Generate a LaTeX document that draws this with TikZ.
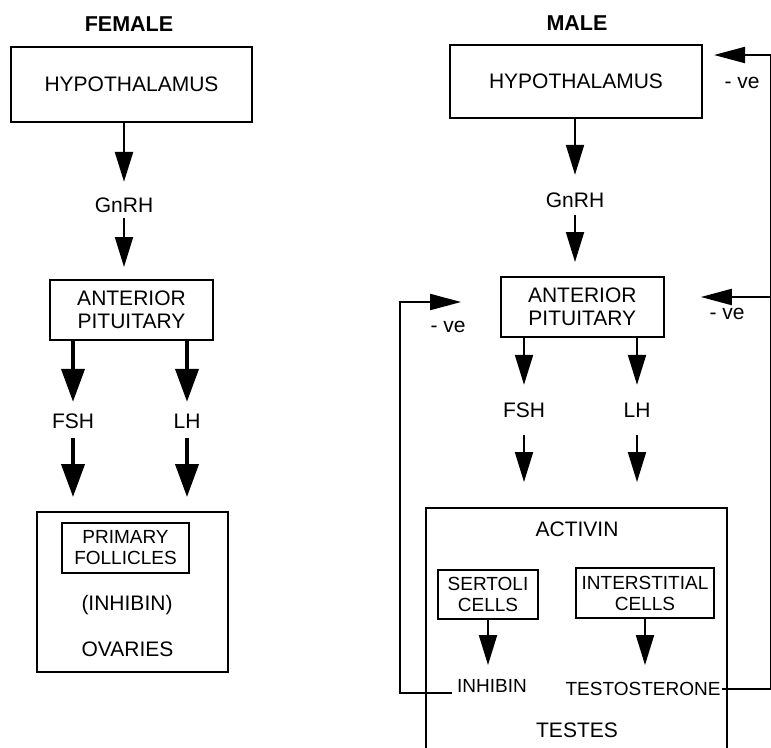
\documentclass[tikz,border=0pt]{standalone}
\usepackage{fontspec}
\setmainfont{Liberation Sans}
\usetikzlibrary{arrows.meta,calc}
\begin{document}
\begin{tikzpicture}[x=1pt,y=-1pt,
  lbl/.style={inner sep=0pt, font=\fontsize{21}{23}\selectfont, text height=15pt, text depth=0pt},
  slbl/.style={inner sep=0pt, font=\fontsize{19}{21}\selectfont, text height=13.5pt, text depth=0pt},
  ttl/.style={inner sep=0pt, font=\bfseries\fontsize{21.5}{23}\selectfont, text height=15.4pt, text depth=0pt},
  box/.style={draw, line width=2pt, inner sep=0pt, align=center, font=\fontsize{21}{23}\selectfont},
  sbox/.style={draw, line width=1.6pt, inner sep=0pt, align=center, font=\fontsize{19}{21}\selectfont},
  arr/.style={line width=2pt, -{Triangle[length=30pt,width=18pt]}},
  thickarr/.style={line width=4pt, -{Triangle[length=33pt,width=23pt]}},
  fbarr/.style={line width=2pt, -{Triangle[length=31pt,width=16pt]}},
]
\useasboundingbox (0,0) rectangle (771,747);
\clip (0,0) rectangle (771,747);

% ---------------- FEMALE ----------------
\node[ttl] (ftitle) at (129,24) {FEMALE};
\node[box, minimum width=241pt, minimum height=75pt] (fhyp) at (131.5,84.5) {HYPOTHALAMUS};
\node[lbl] (fgnrh) at (124,205) {GnRH};
\node[box, minimum width=163pt, minimum height=60pt] (fant) at (131.5,310) {ANTERIOR\\PITUITARY};
\node[lbl] (ffsh) at (73,421) {FSH};
\node[lbl] (flh) at (187,421) {LH};
\node[box, minimum width=191pt, minimum height=160pt] (fova) at (132.5,592) {};
\node[sbox, minimum width=127pt, minimum height=50pt] (fprim) at (125.5,548) {PRIMARY\\FOLLICLES};
\node[lbl] (finh) at (127,603) {(INHIBIN)};
\node[lbl] (fovl) at (127.5,649) {OVARIES};

\draw[arr, line width=2.5pt, shorten >=15.5pt] (fgnrh |- fhyp.south) -- (fgnrh.north);
\draw[arr, shorten <=5.5pt, shorten >=12pt] (fgnrh.south) -- (fgnrh |- fant.north);
\draw[thickarr, shorten >=11.5pt] (ffsh |- fant.south) -- (ffsh.north);
\draw[thickarr, shorten >=11.5pt] (flh |- fant.south) -- (flh.north);
\draw[thickarr, shorten <=9.5pt, shorten >=14pt] (ffsh.south) -- (ffsh |- fova.north);
\draw[thickarr, shorten <=9.5pt, shorten >=14pt] (flh.south) -- (flh |- fova.north);

% ---------------- MALE ----------------
\node[ttl] (mtitle) at (577,22.5) {MALE};
\node[box, minimum width=252pt, minimum height=73pt] (mhyp) at (576,81.5) {HYPOTHALAMUS};
\node[lbl] (mgnrh) at (575,200) {GnRH};
\node[box, minimum width=163pt, minimum height=60pt] (mant) at (582.3,307) {ANTERIOR\\PITUITARY};
\node[lbl] (mfsh) at (524,410) {FSH};
\node[lbl] (mlh) at (637,410) {LH};
\node[box, minimum width=301pt, minimum height=252pt] (mtes) at (576.5,634) {};
\node[lbl] (mact) at (577,529) {ACTIVIN};
\node[sbox, minimum width=100pt, minimum height=49pt] (msert) at (488,594.5) {SERTOLI\\CELLS};
\node[sbox, minimum width=138pt, minimum height=50pt] (mint) at (645,593) {INTERSTITIAL\\CELLS};
\node[slbl] (minh) at (492,686) {INHIBIN};
\node[slbl] (mtest) at (643,689) {TESTOSTERONE};
\node[lbl] (mtesl) at (577,730) {TESTES};
\node[lbl] (mve1) at (742,80.5) {- ve};
\node[lbl] (mve2) at (727,312) {- ve};
\node[lbl] (mve3) at (448,325) {- ve};

\draw[arr, shorten >=17.5pt] (mgnrh |- mhyp.south) -- (mgnrh.north);
\draw[arr, shorten <=7.5pt, shorten >=14pt] (mgnrh.south) -- (mgnrh |- mant.north);
\draw[arr, shorten >=17.5pt] (mfsh |- mant.south) -- (mfsh.north);
\draw[arr, shorten >=17.5pt] (mlh |- mant.south) -- (mlh.north);
\draw[arr, shorten <=17.5pt, shorten >=25pt] (mfsh.south) -- (mfsh |- mtes.north);
\draw[arr, shorten <=17.5pt, shorten >=25pt] (mlh.south) -- (mlh |- mtes.north);
\draw[arr, shorten >=14pt] (msert.south) -- (msert.south |- minh.north);
\draw[arr, shorten >=17pt] (mint.south) -- (mint.south |- mtest.north);

% feedback loops
\coordinate (lfb) at (400,302);
\coordinate (rfb) at (771,689);
\coordinate (rtop) at (771,55);
\coordinate (rmid) at (771,297);
\draw[fbarr, shorten <=5pt, shorten >=38.7pt] (minh.south west) -| (lfb) -- (lfb -| mant.west);
\draw[fbarr, shorten <=1.5pt, shorten >=11pt] (mtest.east) -- (rfb) |- (rtop -| mhyp.east);
\draw[fbarr, shorten >=36pt] (rmid) -- (rmid -| mant.east);
\end{tikzpicture}
\end{document}
